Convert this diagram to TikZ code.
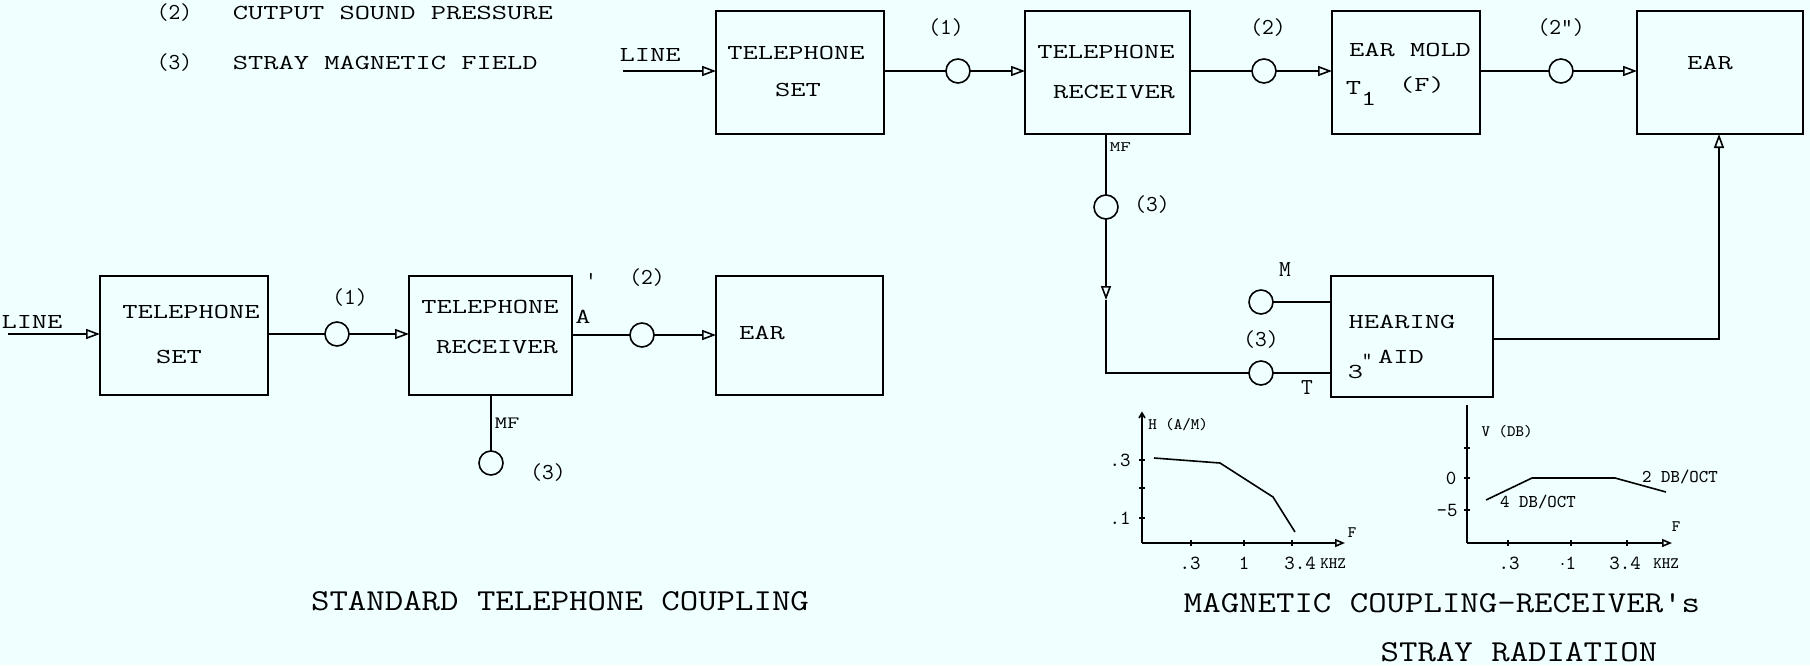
\documentclass[tikz,border=0pt]{standalone}
\usepackage{fontspec}
\usetikzlibrary{arrows.meta}
\definecolor{bgc}{RGB}{240,255,255}
\newcommand{\sq}[1]{\scalebox{1}[0.72]{#1}}
\newcommand{\sqc}[1]{\scalebox{1}[0.85]{#1}}
\newcommand{\tsz}[1]{\ttfamily\fontsize{#1}{#1}\selectfont}
\tikzset{
  blk/.style={draw, rectangle, inner sep=0pt, outer sep=0pt},
  ring/.style={draw, circle, minimum size=12pt, inner sep=0pt, outer sep=0pt},
  lbl/.style={font=\tsz{14.8}, inner sep=0pt},
  num/.style={font=\tsz{11.4}, inner sep=0pt},
  captxt/.style={font=\tsz{17.9}, inner sep=0pt},
  sml/.style={font=\tsz{8}, inner sep=0pt},
  gnum/.style={font=\tsz{10}, inner sep=0pt},
  arr/.style={-{Triangle[open,length=7pt,width=5pt]}},
  smarr/.style={-{Triangle[open,length=5pt,width=4pt]}}
}
\begin{document}
\begin{tikzpicture}[x=0.5pt,y=-0.5pt,line width=0.8pt]
\fill[bgc] (0,0) rectangle (1810,665);
\useasboundingbox (0,0) rectangle (1810,665);

% legend
\node[num,anchor=west] (l2n) at (156,13) {(2)};
\node[lbl,anchor=west] (l2t) at (232,13) {\sq{CUTPUT SOUND PRESSURE}};
\node[num,anchor=west] (l3n) at (156,63) {(3)};
\node[lbl,anchor=west] (l3t) at (232,63) {\sq{STRAY MAGNETIC FIELD}};

% ===== upper chain =====
\node[blk,minimum width=84pt,minimum height=61.5pt] (ts1) at (800,72.5) {};
\node[blk,minimum width=82.5pt,minimum height=61.5pt] (rc1) at (1107.5,72.5) {};
\node[blk,minimum width=74pt,minimum height=61.5pt] (em) at (1406,72.5) {};
\node[blk,minimum width=83pt,minimum height=61.5pt] (ear1) at (1720,72.5) {};
\node[blk,minimum width=81pt,minimum height=60.5pt] (ha) at (1412,336.5) {};

\node[lbl] (ts1a) at (796,53) {\sq{TELEPHONE}};
\node[lbl] (ts1b) at (798,90) {\sq{SET}};
\node[lbl] (rc1a) at (1106,52) {\sq{TELEPHONE}};
\node[lbl] (rc1b) at (1114,92) {\sq{RECEIVER}};
\node[lbl] (ema) at (1410,50) {\sq{EAR MOLD}};
\node[lbl,anchor=west] (emb) at (1345,93) {\sq{T\raisebox{-1.2ex}{1}}};
\node[lbl] (emc) at (1422,85) {\sq{(F)}};
\node[lbl] (ear1a) at (1710,63) {\sq{EAR}};
\node[lbl] (haa) at (1402,322) {\sq{HEARING}};
\node[lbl] (hab) at (1401,357) {\sq{AID}};
\node[lbl,anchor=west] (hac) at (1347,372) {\sq{3}};
\node[lbl,anchor=west] (had) at (1361,360) {\tsz{10}"};

\node[ring] (c1) at (958,71) {};
\node[ring] (c2) at (1264,71) {};
\node[ring] (c2p) at (1561,71) {};
\node[num] (c1l) at (946,28) {(1)};
\node[num] (c2l) at (1268,28) {(2)};
\node[num] (c2pl) at (1561,28) {(2")};

\coordinate (lin1) at (623,71);
\node[lbl] (lin1t) at (650,55) {\sq{LINE}};
\draw[arr] (lin1) -- (ts1.west |- lin1);
\draw (ts1.east |- c1) -- (c1);
\draw[arr] (c1) -- (rc1.west |- c1);
\draw (rc1.east |- c2) -- (c2);
\draw[arr] (c2) -- (em.west |- c2);
\draw (em.east |- c2p) -- (c2p);
\draw[arr] (c2p) -- (ear1.west |- c2p);

% stray field path
\node[ring] (cmf) at (1106,207) {};
\node[num] (cmfl) at (1152,205) {(3)};
\node[sml,anchor=west] (mf1) at (1109,147) {\sq{\tsz{10}MF}};
\coordinate (mfa) at (1106,300);
\draw (rc1.south -| cmf) -- (cmf);
\draw[arr] (cmf) -- (mfa);
\node[ring] (cT) at (1261,373) {};
\node[ring] (cM) at (1261,302) {};
\draw (mfa) |- (cT);
\draw (cT) -- (ha.west |- cT);
\draw (cM) -- (ha.west |- cM);
\node[num] (cTl) at (1261,340) {(3)};
\node[num] (cMl) at (1285,270) {M};
\node[num] (cTt) at (1307,388) {T};
\coordinate (haout) at (1719,339);
\draw[arr] (ha.east |- haout) -| (ear1.south -| haout);

% ===== lower chain =====
\node[blk,minimum width=84pt,minimum height=59.5pt] (ts2) at (184,335.5) {};
\node[blk,minimum width=81.5pt,minimum height=59.5pt] (rc2) at (490.5,335.5) {};
\node[blk,minimum width=83.5pt,minimum height=59.5pt] (ear2) at (799.5,335.5) {};

\node[lbl] (ts2a) at (191,312) {\sq{TELEPHONE}};
\node[lbl] (ts2b) at (179,357) {\sq{SET}};
\node[lbl] (rc2a) at (490,307) {\sq{TELEPHONE}};
\node[lbl] (rc2b) at (497,347) {\sq{RECEIVER}};
\node[lbl] (ear2a) at (762,333) {\sq{EAR}};
\node[lbl] (rcA) at (583,317) {\sq{A}};
\node[num] (tick) at (591,280) {'};

\coordinate (lin2) at (8,334);
\node[lbl] (lin2t) at (32,322) {\sq{LINE}};
\node[ring] (c1b) at (337,334) {};
\node[ring] (c2b) at (642,335) {};
\node[num] (c1bl) at (350,298) {(1)};
\node[num] (c2bl) at (647,278) {(2)};
\draw[arr] (lin2) -- (ts2.west |- lin2);
\draw (ts2.east |- c1b) -- (c1b);
\draw[arr] (c1b) -- (rc2.west |- c1b);
\draw (rc2.east |- c2b) -- (c2b);
\draw[arr] (c2b) -- (ear2.west |- c2b);

\node[ring] (c3b) at (491,463) {};
\draw (rc2.south -| c3b) -- (c3b);
\node[sml,anchor=west] (mf2) at (494,423) {\sq{\tsz{12}MF}};
\node[num] (c3bl) at (548,473) {(3)};

% ===== graph H =====
\draw[smarr] (1142,543) -- (1345,543);
\draw (1142,543) -- (1142,413);
\draw (1139,418) -- (1142,413) -- (1145,418);
\foreach \yy in {460,488,518} \draw (1139,\yy) -- (1145,\yy);
\foreach \xx in {1191,1244,1292} \draw (\xx,540) -- (\xx,546);
\draw (1154,458) -- (1220,463) -- (1273,497) -- (1295,532);
\node[sml] (hlab) at (1178,425) {H (A/M)};
\node[gnum] (h3) at (1120,460) {.3};
\node[gnum] (h1) at (1120,518) {.1};
\node[gnum] (hx3) at (1190,563) {.3};
\node[gnum] (hx1) at (1244,563) {1};
\node[gnum] (hx34) at (1300,563) {3.4};
\node[sml] (hkhz) at (1333,564) {KHZ};
\node[sml] (hF) at (1352,533) {F};

% ===== graph V =====
\draw[smarr] (1467,543) -- (1672,543);
\draw (1467,543) -- (1467,405);
\foreach \yy in {448,478,510} \draw (1464,\yy) -- (1470,\yy);
\foreach \xx in {1508,1571,1627} \draw (\xx,540) -- (\xx,546);
\draw (1486,500) -- (1532,478) -- (1615,478) -- (1666,492);
\node[sml] (vlab) at (1507,432) {V (DB)};
\node[gnum] (v0) at (1451,478) {0};
\node[gnum] (v5) at (1447,510) {-5};
\node[sml] (v4) at (1538,502) {\tsz{9}4 DB/OCT};
\node[sml] (v2) at (1680,477) {\tsz{9}2 DB/OCT};
\node[sml] (vF) at (1676,527) {F};
\node[gnum] (vx3) at (1509,563) {.3};
\node[gnum] (vx1) at (1568,563) {$\cdot$1};
\node[gnum] (vx34) at (1625,563) {3.4};
\node[sml] (vkhz) at (1666,564) {KHZ};

% captions
\node[captxt] (capL) at (560,601) {\sqc{STANDARD TELEPHONE COUPLING}};
\node[captxt] (capR1) at (1442,603) {\sqc{MAGNETIC COUPLING-RECEIVER's}};
\node[captxt] (capR2) at (1519,652) {\sqc{STRAY RADIATION}};
\end{tikzpicture}
\end{document}
